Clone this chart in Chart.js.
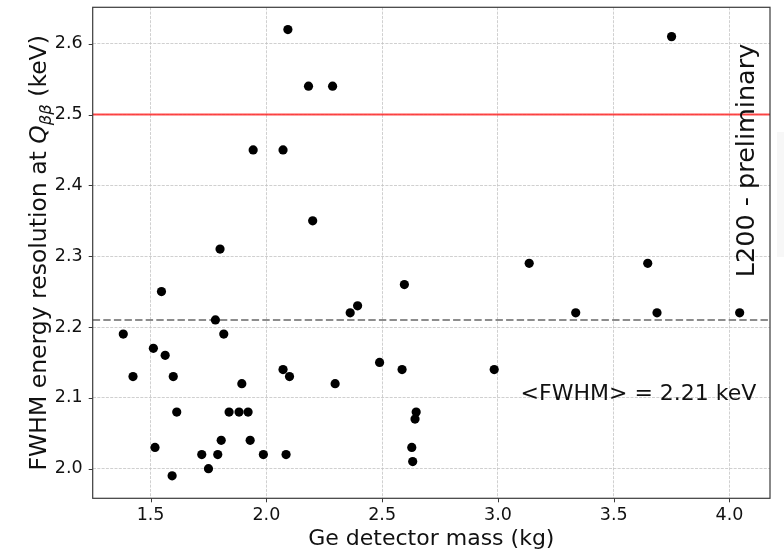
<!DOCTYPE html>
<html><head><meta charset="utf-8">
<script src="https://cdn.jsdelivr.net/npm/chart.js@4.4.1/dist/chart.umd.min.js"></script>
<style>html,body{margin:0;padding:0;background:#fff}#wrap{width:784px;height:553px;position:relative}</style>
</head><body><div id="wrap"><canvas id="c" width="784" height="553"></canvas></div>
<script>
// ---- data ----
const massKg = [1.382,1.424,1.512,1.519,1.547,1.563,1.593,1.598,1.613,1.721,1.750,1.780,1.790,1.800,1.805,1.816,1.839,1.882,1.894,1.921,1.930,1.943,1.987,2.072,2.072,2.085,2.093,2.100,2.182,2.200,2.286,2.297,2.362,2.394,2.489,2.586,2.596,2.628,2.632,2.642,2.647,2.984,3.135,3.336,3.647,3.687,3.750,4.044];
const fwhmKeV = [2.19,2.13,2.17,2.03,2.25,2.16,1.99,2.13,2.08,2.02,2.00,2.21,2.02,2.31,2.04,2.19,2.08,2.08,2.12,2.08,2.04,2.45,2.02,2.45,2.14,2.02,2.62,2.13,2.54,2.35,2.54,2.12,2.22,2.23,2.15,2.14,2.26,2.03,2.01,2.07,2.08,2.14,2.29,2.22,2.29,2.22,2.61,2.22];
const xTicks = [1.5,2.0,2.5,3.0,3.5,4.0];
const yTicks = [2.0,2.1,2.2,2.3,2.4,2.5,2.6];
const xRange = [1.250,4.175];
const yRange = [1.9582,2.6514];
const limitKeV = 2.5;
const meanKeV = 2.21;
const meanLabel = '<FWHM> = 2.21 keV';
const meanLabelPos = [4.116, 2.097];
const watermark = 'L200 - preliminary';
const xTitle = 'Ge detector mass (kg)';
const yTitleMain = 'FWHM energy resolution at ';
const yTitleQ = 'Q';
const yTitleSub = 'ββ';
const yTitleEnd = ' (keV)';

const FONT = "'DejaVu Sans', 'Liberation Sans', sans-serif";

const decor = {
  id: 'decor',
  beforeDatasetsDraw(chart) {
    const {ctx, chartArea: a, scales: {x, y}} = chart;
    ctx.save();
    ctx.beginPath(); ctx.rect(a.left, a.top, a.right - a.left, a.bottom - a.top); ctx.clip();
    // red limit line
    let py = y.getPixelForValue(limitKeV);
    ctx.strokeStyle = 'rgba(255,40,40,0.85)'; ctx.lineWidth = 2;
    ctx.beginPath(); ctx.moveTo(a.left, py); ctx.lineTo(a.right, py); ctx.stroke();
    // mean dashed line
    py = y.getPixelForValue(meanKeV);
    ctx.strokeStyle = 'rgba(128,128,128,0.9)'; ctx.lineWidth = 2; ctx.setLineDash([7.4, 3.2]);
    ctx.beginPath(); ctx.moveTo(a.left, py); ctx.lineTo(a.right, py); ctx.stroke();
    ctx.restore();
  },
  afterDraw(chart) {
    const {ctx, chartArea: a, scales: {x, y}} = chart;
    ctx.save();
    // faint logo fragment at right edge
    ctx.fillStyle = '#f7f7f7';
    ctx.fillRect(777, 132, 7, 125);
    // frame
    ctx.strokeStyle = '#3a3a3a'; ctx.lineWidth = 1.2;
    ctx.strokeRect(a.left, a.top, a.right - a.left, a.bottom - a.top);
    // tick marks
    ctx.lineWidth = 1;
    ctx.beginPath();
    xTicks.forEach(v => { const p = Math.round(x.getPixelForValue(v)) + 0.5; ctx.moveTo(p, a.bottom); ctx.lineTo(p, a.bottom + 4); });
    yTicks.forEach(v => { const p = Math.round(y.getPixelForValue(v)) + 0.5; ctx.moveTo(a.left - 4, p); ctx.lineTo(a.left, p); });
    ctx.stroke();
    // mean annotation
    ctx.fillStyle = '#111';
    ctx.font = '22px ' + FONT;
    ctx.textAlign = 'right'; ctx.textBaseline = 'alphabetic';
    ctx.fillText(meanLabel, x.getPixelForValue(meanLabelPos[0]), y.getPixelForValue(meanLabelPos[1]));
    // watermark vertical
    ctx.save();
    ctx.translate(754, 160.5); ctx.rotate(-Math.PI / 2);
    ctx.font = '25.5px ' + FONT; ctx.textAlign = 'center'; ctx.textBaseline = 'alphabetic';
    ctx.fillText(watermark, 0, 0);
    ctx.restore();
    // y title with italic Q and subscript
    ctx.save();
    ctx.translate(46, (a.top + a.bottom) / 2); ctx.rotate(-Math.PI / 2);
    const fs = 23.5;
    const fN = fs + 'px ' + FONT, fI = 'italic ' + fs + 'px ' + FONT, fS = 'italic ' + (fs * 0.7) + 'px ' + FONT;
    ctx.font = fN; const w1 = ctx.measureText(yTitleMain).width, w4 = ctx.measureText(yTitleEnd).width;
    ctx.font = fI; const w2 = ctx.measureText(yTitleQ).width;
    ctx.font = fS; const w3 = ctx.measureText(yTitleSub).width;
    let cx = -(w1 + w2 + w3 + w4) / 2;
    ctx.textAlign = 'left'; ctx.textBaseline = 'alphabetic';
    ctx.font = fN; ctx.fillText(yTitleMain, cx, 0); cx += w1;
    ctx.font = fI; ctx.fillText(yTitleQ, cx, 0); cx += w2;
    ctx.font = fS; ctx.fillText(yTitleSub, cx, fs * 0.22); cx += w3;
    ctx.font = fN; ctx.fillText(yTitleEnd, cx, 0);
    ctx.restore();
    ctx.restore();
  }
};

new Chart(document.getElementById('c'), {
  type: 'scatter',
  data: {
    datasets: [{
      data: massKg.map((m, i) => ({x: m, y: fwhmKeV[i]})),
      backgroundColor: '#000', borderWidth: 0,
      pointRadius: 4.6, pointHoverRadius: 4.6
    }]
  },
  options: {
    responsive: false, animation: false, devicePixelRatio: 1,
    layout: {padding: {top: 7.3, right: 14, left: 0, bottom: 0}},
    plugins: {legend: {display: false}, tooltip: {enabled: false}},
    scales: {
      x: {
        type: 'linear', min: xRange[0], max: xRange[1],
        afterBuildTicks: s => { s.ticks = xTicks.map(v => ({value: v})); },
        afterFit: s => { s.height = 54.7; s.paddingLeft = 0; s.paddingRight = 0; },
        ticks: {font: {family: FONT, size: 17.5}, color: '#111', padding: 7, autoSkip: false, maxRotation: 0,
                callback: v => Number(v).toFixed(1)},
        grid: {color: '#c4c4c4', lineWidth: 0.8, drawTicks: false},
        border: {display: false, dash: [3, 1.3]},
        title: {display: true, text: xTitle, color: '#111', font: {family: FONT, size: 22}, padding: {top: 0, bottom: 1}}
      },
      y: {
        type: 'linear', min: yRange[0], max: yRange[1],
        afterBuildTicks: s => { s.ticks = yTicks.map(v => ({value: v})); },
        afterFit: s => { s.width = 92.7; s.paddingTop = 0; s.paddingBottom = 0; },
        ticks: {font: {family: FONT, size: 17.5}, color: '#111', padding: 10, autoSkip: false,
                callback: v => Number(v).toFixed(1)},
        grid: {color: '#c4c4c4', lineWidth: 0.8, drawTicks: false},
        border: {display: false, dash: [3, 1.3]}
      }
    }
  },
  plugins: [decor]
});
</script>
</body></html>
